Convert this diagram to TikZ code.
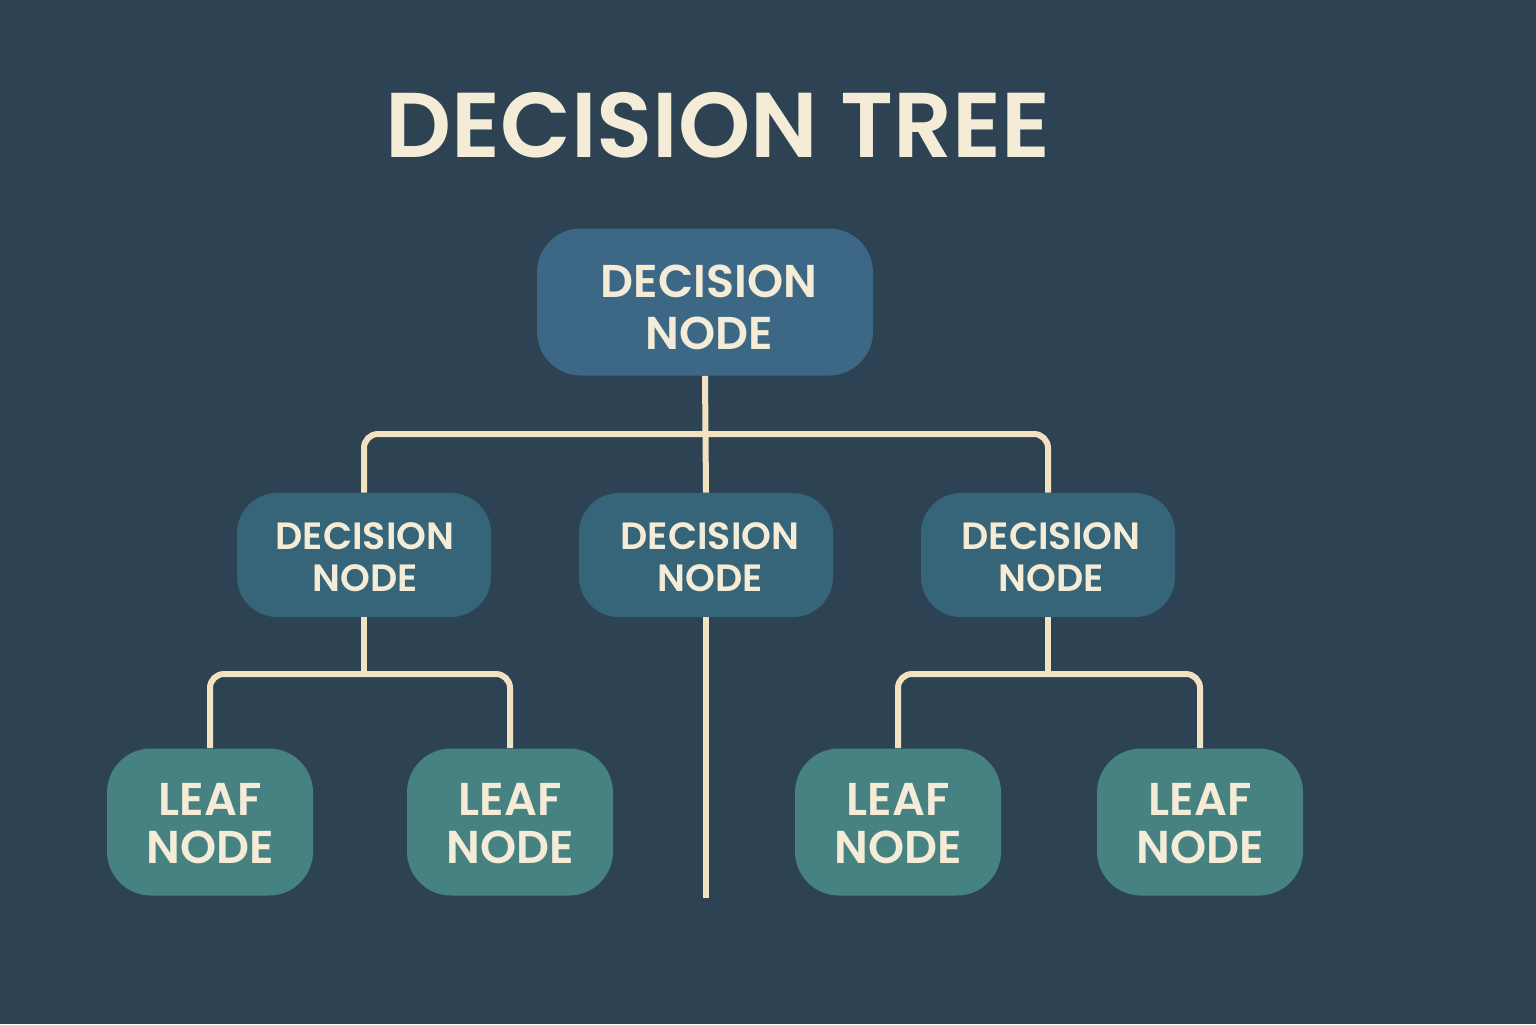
\documentclass[tikz,border=0pt]{standalone}
\usepackage{fontspec}
\setmainfont{Poppins}[BoldFont={Poppins SemiBold}]
\definecolor{bgc}{HTML}{2D4354}
\definecolor{topc}{HTML}{3C6886}
\definecolor{midc}{HTML}{366478}
\definecolor{leafc}{HTML}{468282}
\definecolor{linec}{HTML}{F2E2C2}
\definecolor{txtc}{HTML}{F5ECD7}
\tikzset{
  box/.style={rectangle, rounded corners=22pt, inner sep=0pt},
  topbox/.style={box, fill=topc, minimum width=168pt, minimum height=73.5pt},
  midbox/.style={box, fill=midc, minimum width=127pt, minimum height=62pt, rounded corners=20pt},
  leafbox/.style={box, fill=leafc, minimum width=103pt, minimum height=73.5pt},
  txt/.style={inner sep=0pt, align=center, text=txtc},
  toptxt/.style={txt, font=\bfseries\fontsize{23}{26}\selectfont},
  midtxt/.style={txt, font=\bfseries\fontsize{19}{21}\selectfont},
  leaftxt/.style={txt, font=\bfseries\fontsize{23}{24}\selectfont},
  conn/.style={draw=linec, line width=3pt, rounded corners=7pt},
  titlestyle/.style={text=txtc, font=\bfseries\fontsize{46}{50}\selectfont, inner sep=0pt}
}
\begin{document}
\begin{tikzpicture}[x=0.5pt,y=-0.5pt]
\fill[bgc] (0,0) rectangle (1536,1024);
\useasboundingbox (0,0) rectangle (1536,1024);
\node[titlestyle] (title) at (718,125) {DECISION TREE};
\node[topbox] (top) at (705,302) {};
\node[midbox] (ml) at (364,555) {};
\node[midbox] (mc) at (706,555) {};
\node[midbox] (mr) at (1048,555) {};
\node[leafbox] (l1) at (210,822) {};
\node[leafbox] (l2) at (510,822) {};
\node[leafbox] (l3) at (898,822) {};
\node[leafbox] (l4) at (1200,822) {};
\node[toptxt] (topt) at ([xshift=2pt,yshift=-2.5pt]top.center) {DECISION\\NODE};
\node[midtxt] (mlt) at ([xshift=0.5pt,yshift=-1.2pt]ml.center) {DECISION\\NODE};
\node[midtxt] (mct) at ([xshift=2pt,yshift=-1.2pt]mc.center) {DECISION\\NODE};
\node[midtxt] (mrt) at ([xshift=1.5pt,yshift=-1.2pt]mr.center) {DECISION\\NODE};
\node[leaftxt] (l1t) at ([yshift=-1pt]l1.center) {LEAF\\NODE};
\node[leaftxt] (l2t) at ([yshift=-1pt]l2.center) {LEAF\\NODE};
\node[leaftxt] (l3t) at ([yshift=-1pt]l3.center) {LEAF\\NODE};
\node[leaftxt] (l4t) at ([yshift=-1pt]l4.center) {LEAF\\NODE};
\coordinate (j1) at (705,434);
\coordinate (j2) at (364,674);
\coordinate (j3) at (1048,674);
\coordinate (mcend) at (706,898);
\draw[conn] (ml.north) |- (j1) -| (mr.north);
\draw[conn] (top.south) -- (mc.north);
\draw[conn] (mc.south) -- (mcend);
\draw[conn] (ml.south) -- (j2);
\draw[conn] (l1.north) |- (j2) -| (l2.north);
\draw[conn] (mr.south) -- (j3);
\draw[conn] (l3.north) |- (j3) -| (l4.north);
\end{tikzpicture}
\end{document}
